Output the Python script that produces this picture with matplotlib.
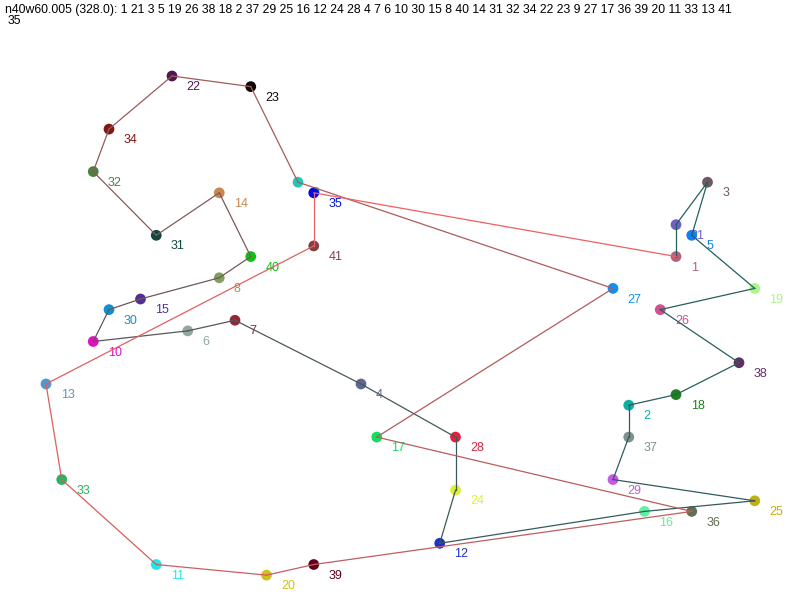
import matplotlib
matplotlib.use("Agg")
import matplotlib.pyplot as plt
from matplotlib.colors import LinearSegmentedColormap

# ------------------------------------------------------------------------------

instance = "n40w60.005"
cost = 328.0

# node id -> grid coords
node_ids = [1, 2, 3, 4, 5, 6, 7, 8, 9, 10,
            11, 12, 13, 14, 15, 16, 17, 18, 19, 20,
            21, 22, 23, 24, 25, 26, 27, 28, 29, 30,
            31, 32, 33, 34, 35, 36, 37, 38, 39, 40, 41]
node_x = [40, 37, 42, 20, 41, 9, 12, 11, 16, 3,
          7, 25, 0, 11, 6, 38, 21, 40, 45, 14,
          40, 8, 13, 26, 45, 39, 36, 26, 36, 4,
          7, 3, 1, 4, 17, 41, 37, 44, 17, 13, 17]
node_y = [17, 31, 10, 29, 15, 24, 23, 19, 10, 25,
          46, 44, 29, 11, 21, 41, 34, 30, 20, 47,
          14, 0, 1, 39, 40, 22, 20, 34, 38, 22,
          15, 9, 38, 5, 11, 41, 34, 27, 46, 17, 16]
node_colors = ["#b86078", "#10b0a0", "#705860", "#606890", "#1080f0",
               "#90a8a0", "#902838", "#80a060", "#20c8b8", "#e010c0",
               "#20e8e8", "#2030c8", "#5098d0", "#c88850", "#503098",
               "#60f0a0", "#10e060", "#208020", "#a8f888", "#d0c020",
               "#7060c0", "#501850", "#100808", "#e0f030", "#c0b010",
               "#d05090", "#1090f0", "#e02040", "#c858e8", "#1090d0",
               "#104840", "#508040", "#30b060", "#801818", "#0010e0",
               "#607050", "#809090", "#603060", "#600020", "#10c010", "#804048"]

tour = [1, 21, 3, 5, 19, 26, 38, 18, 2, 37, 29, 25, 16, 12, 24, 28, 4, 7, 6, 10,
        30, 15, 8, 40, 14, 31, 32, 34, 22, 23, 9, 27, 17, 36, 39, 20, 11, 33, 13,
        41, 35]

# ------------------------------------------------------------------------------

pos = {n: (x, y) for n, x, y in zip(node_ids, node_x, node_y)}
col = dict(zip(node_ids, node_colors))

edge_cmap = LinearSegmentedColormap.from_list(
  "tour", [(0.0, "#1f6060"), (0.35, "#3a5a5a"), (0.45, "#585858"),
           (0.7, "#a05a5a"), (1.0, "#f06060")])

fig = plt.figure(figsize=(8, 6), dpi=100)
ax = fig.add_axes([0, 0, 1, 1])

closed = tour + [tour[0]]
n_edges = len(tour)
for i in range(n_edges):
  a, b = closed[i], closed[i+1]
  ax.plot([pos[a][0], pos[b][0]], [pos[a][1], pos[b][1]],
          color=edge_cmap(i / (n_edges - 1)), lw=0.9, zorder=3)

for n in node_ids:
  x, y = pos[n]
  ax.annotate(str(n), xy=(x, y), xytext=(10.5, -8), textcoords="offset points",
              ha="left", va="center", fontsize=9, color=col[n],
              family="Liberation Sans", zorder=1)

ax.scatter(node_x, node_y, s=60, c=node_colors, zorder=2, linewidths=0)

title = "{} ({:.1f}): ".format(instance, cost) + " ".join(str(n) for n in tour[:-1])
fig.text(0.006, 0.984, title, ha="left", va="center", fontsize=8.8,
         family="Liberation Sans")
fig.text(0.010, 0.965, str(tour[-1]), ha="left", va="center", fontsize=8.8,
         family="Liberation Sans")

ax.set_xlim(-46/15.75, (800-46)/15.75)
ax.set_ylim((600-76)/10.62, -76/10.62)
ax.axis("off")

fig.savefig("out.png", dpi=100)
